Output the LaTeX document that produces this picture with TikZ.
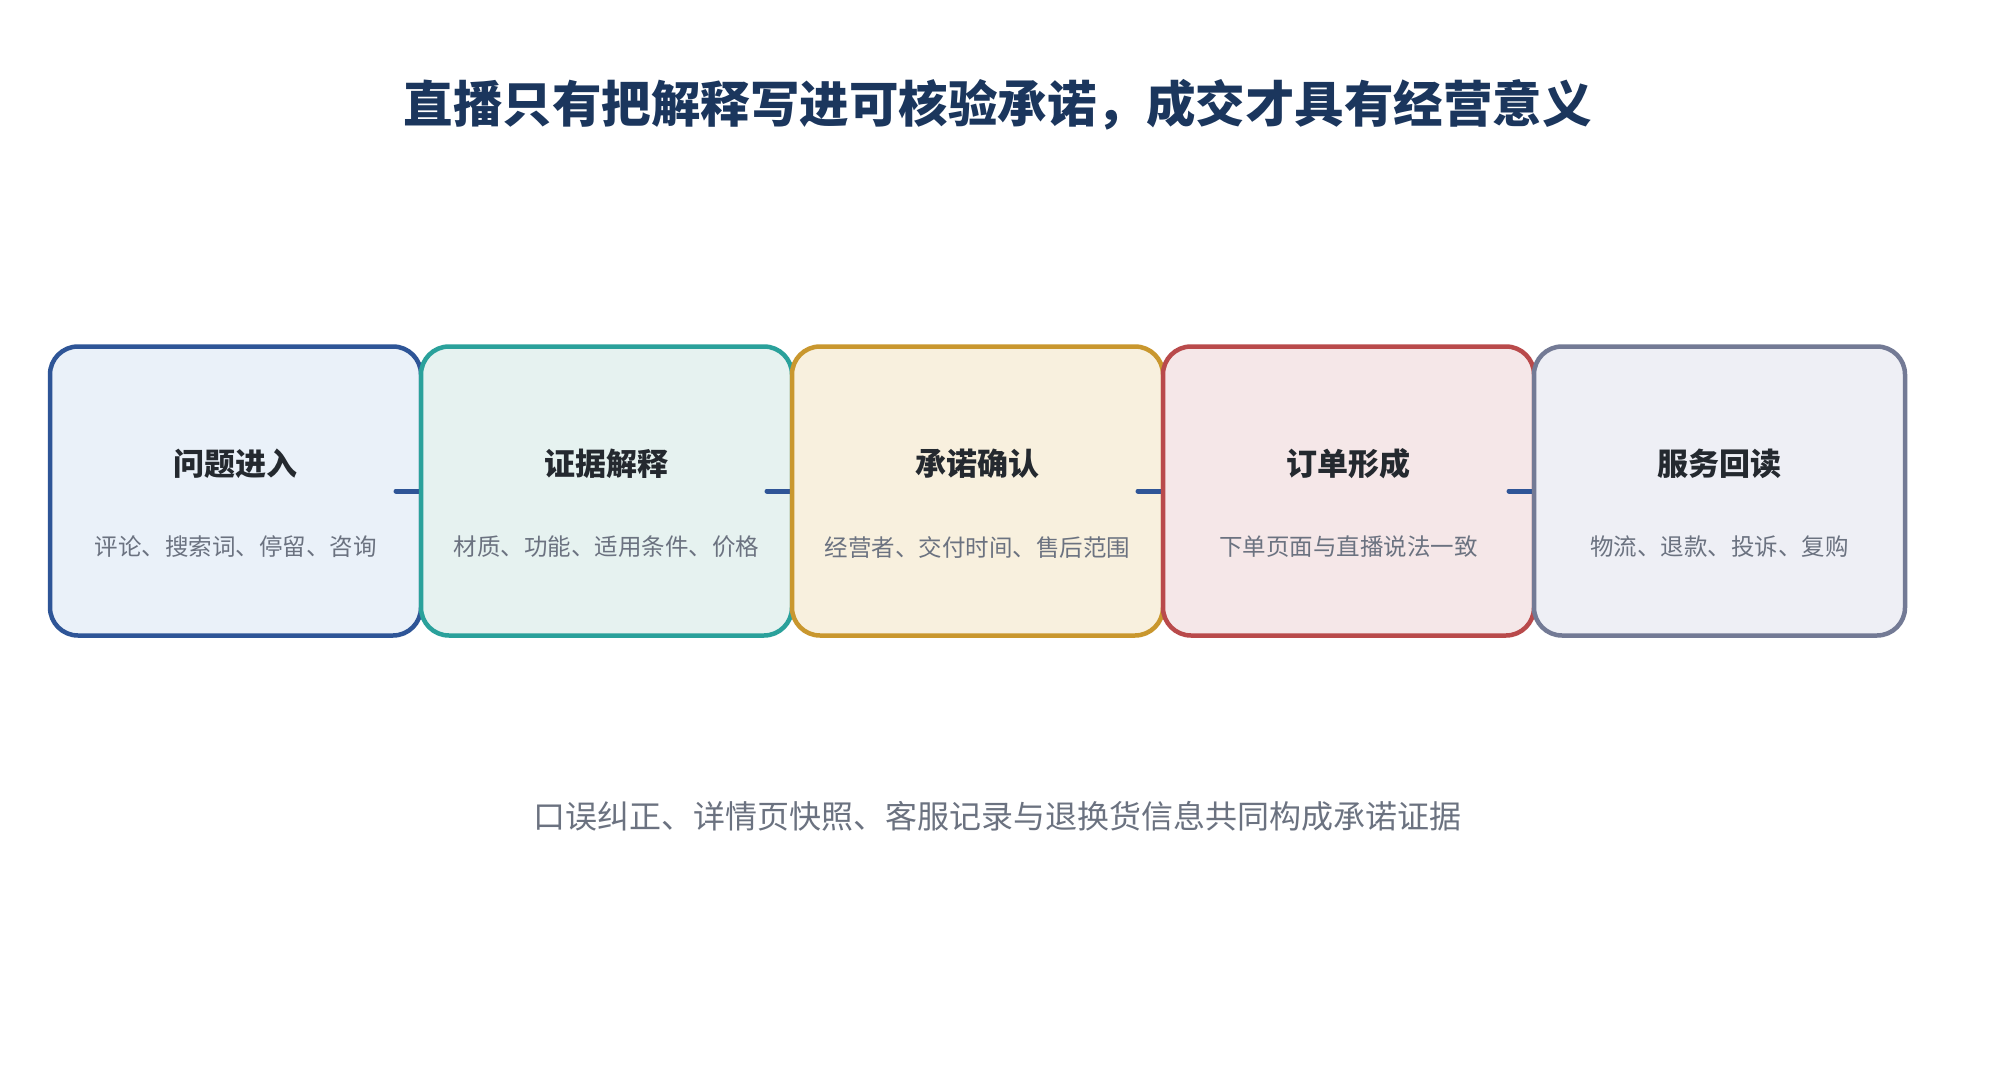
\documentclass[tikz,border=0pt]{standalone}
\usepackage{fontspec}
\setmainfont{Noto Sans CJK SC}
\begin{document}
\begin{tikzpicture}[x=1pt,y=-1pt,
  stagebox/.style={rectangle, rounded corners=28pt, line width=4.5pt, minimum width=371pt, minimum height=289pt, inner sep=0pt, outer sep=0pt},
  stagetitle/.style={font=\fontsize{31}{37}\selectfont\bfseries, text=titlegray},
  stagesub/.style={font=\fontsize{23.5}{29}\selectfont, text=subgray},
  link/.style={line width=5pt, line cap=round, draw=linkblue}
]
\definecolor{navy}{HTML}{1B365D}
\definecolor{titlegray}{HTML}{24292F}
\definecolor{subgray}{HTML}{6B7280}
\definecolor{linkblue}{HTML}{2F5597}
\definecolor{sA}{HTML}{2E5597}\definecolor{fA}{HTML}{EAF1F9}
\definecolor{sB}{HTML}{2AA19B}\definecolor{fB}{HTML}{E6F2F0}
\definecolor{sC}{HTML}{C9972E}\definecolor{fC}{HTML}{F8F0DE}
\definecolor{sD}{HTML}{B94A4B}\definecolor{fD}{HTML}{F5E7E8}
\definecolor{sE}{HTML}{737A95}\definecolor{fE}{HTML}{EEEFF5}
\useasboundingbox[fill=white] (0,0) rectangle (1995,1076);

\node[font=\fontsize{49.5}{58}\selectfont\bfseries, text=navy] (title) at (997.5,105) {直播只有把解释写进可核验承诺，成交才具有经营意义};

\node[stagebox, draw=sA, fill=fA] (b1) at (235.5,491) {};
\draw[link] ([xshift=-25pt]b1.east) -- (b1.east);
\node[stagebox, draw=sB, fill=fB] (b2) at (606.5,491) {};
\draw[link] ([xshift=-25pt]b2.east) -- (b2.east);
\node[stagebox, draw=sC, fill=fC] (b3) at (977.5,491) {};
\draw[link] ([xshift=-25pt]b3.east) -- (b3.east);
\node[stagebox, draw=sD, fill=fD] (b4) at (1348.5,491) {};
\draw[link] ([xshift=-25pt]b4.east) -- (b4.east);
\node[stagebox, draw=sE, fill=fE] (b5) at (1719.5,491) {};

\foreach \i/\t/\s in {1/问题进入/{评论、搜索词、停留、咨询},2/证据解释/{材质、功能、适用条件、价格},3/承诺确认/{经营者、交付时间、售后范围},4/订单形成/{下单页面与直播说法一致},5/服务回读/{物流、退款、投诉、复购}}{
  \node[stagetitle] (t\i) at ([yshift=27pt]b\i.center) {\t};
  \node[stagesub] (s\i) at ([yshift=-56pt]b\i.center) {\s};
}

\node[font=\fontsize{32}{40}\selectfont, text=subgray] (note) at (997.5,816) {口误纠正、详情页快照、客服记录与退换货信息共同构成承诺证据};
\end{tikzpicture}
\end{document}
